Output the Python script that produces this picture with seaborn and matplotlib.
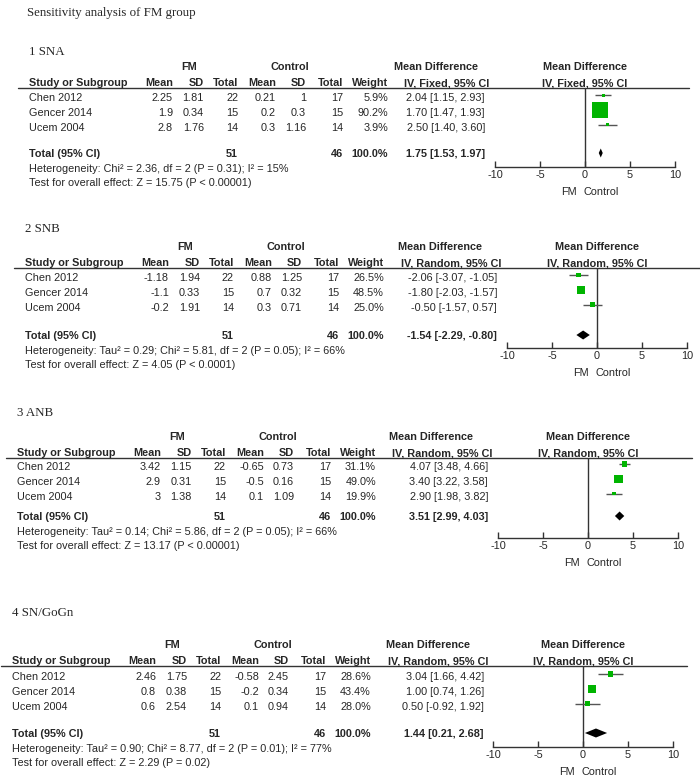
import numpy as np
import pandas as pd
import matplotlib.pyplot as plt
import seaborn as sns

sns.set_theme(style="white")
plt.rcParams['font.family'] = ['Liberation Sans', 'DejaVu Sans']

# %%
###### data
studies = ["Chen 2012", "Gencer 2014", "Ucem 2004"]
fm_n = [22, 15, 14]
ctrl_n = [17, 15, 14]

# 1 SNA
sna_fm_mean = [2.25, 1.9, 2.8]
sna_fm_sd = [1.81, 0.34, 1.76]
sna_ctrl_mean = [0.21, 0.2, 0.3]
sna_ctrl_sd = [1, 0.3, 1.16]
sna_weight = [5.9, 90.2, 3.9]
sna_md = [2.04, 1.70, 2.50]
sna_lo = [1.15, 1.47, 1.40]
sna_hi = [2.93, 1.93, 3.60]
sna_total = [1.75, 1.53, 1.97]
sna_het = "Heterogeneity: Chi² = 2.36, df = 2 (P = 0.31); I² = 15%"
sna_test = "Test for overall effect: Z = 15.75 (P < 0.00001)"

# 2 SNB
snb_fm_mean = [-1.18, -1.1, -0.2]
snb_fm_sd = [1.94, 0.33, 1.91]
snb_ctrl_mean = [0.88, 0.7, 0.3]
snb_ctrl_sd = [1.25, 0.32, 0.71]
snb_weight = [26.5, 48.5, 25.0]
snb_md = [-2.06, -1.80, -0.50]
snb_lo = [-3.07, -2.03, -1.57]
snb_hi = [-1.05, -1.57, 0.57]
snb_total = [-1.54, -2.29, -0.80]
snb_het = "Heterogeneity: Tau² = 0.29; Chi² = 5.81, df = 2 (P = 0.05); I² = 66%"
snb_test = "Test for overall effect: Z = 4.05 (P < 0.0001)"

# 3 ANB
anb_fm_mean = [3.42, 2.9, 3]
anb_fm_sd = [1.15, 0.31, 1.38]
anb_ctrl_mean = [-0.65, -0.5, 0.1]
anb_ctrl_sd = [0.73, 0.16, 1.09]
anb_weight = [31.1, 49.0, 19.9]
anb_md = [4.07, 3.40, 2.90]
anb_lo = [3.48, 3.22, 1.98]
anb_hi = [4.66, 3.58, 3.82]
anb_total = [3.51, 2.99, 4.03]
anb_het = "Heterogeneity: Tau² = 0.14; Chi² = 5.86, df = 2 (P = 0.05); I² = 66%"
anb_test = "Test for overall effect: Z = 13.17 (P < 0.00001)"

# 4 SN/GoGn
sng_fm_mean = [2.46, 0.8, 0.6]
sng_fm_sd = [1.75, 0.38, 2.54]
sng_ctrl_mean = [-0.58, -0.2, 0.1]
sng_ctrl_sd = [2.45, 0.34, 0.94]
sng_weight = [28.6, 43.4, 28.0]
sng_md = [3.04, 1.00, 0.50]
sng_lo = [1.66, 0.74, -0.92]
sng_hi = [4.42, 1.26, 1.92]
sng_total = [1.44, 0.21, 2.68]
sng_het = "Heterogeneity: Tau² = 0.90; Chi² = 8.77, df = 2 (P = 0.01); I² = 77%"
sng_test = "Test for overall effect: Z = 2.29 (P = 0.02)"

panel_labels = ["1 SNA", "2 SNB", "3 ANB", "4 SN/GoGn"]
methods = ["IV, Fixed, 95% CI", "IV, Random, 95% CI", "IV, Random, 95% CI", "IV, Random, 95% CI"]
ticks = [-10, -5, 0, 5, 10]

panels = [
    (sna_fm_mean, sna_fm_sd, sna_ctrl_mean, sna_ctrl_sd, sna_weight, sna_md, sna_lo, sna_hi, sna_total, sna_het, sna_test),
    (snb_fm_mean, snb_fm_sd, snb_ctrl_mean, snb_ctrl_sd, snb_weight, snb_md, snb_lo, snb_hi, snb_total, snb_het, snb_test),
    (anb_fm_mean, anb_fm_sd, anb_ctrl_mean, anb_ctrl_sd, anb_weight, anb_md, anb_lo, anb_hi, anb_total, anb_het, anb_test),
    (sng_fm_mean, sng_fm_sd, sng_ctrl_mean, sng_ctrl_sd, sng_weight, sng_md, sng_lo, sng_hi, sng_total, sng_het, sng_test),
]

# %%
###### layout (pixels, top-left origin)
W, H = 700, 780
left_px = [29, 25, 17, 12]
label_y = [52, 229, 413, 613]
hdr_y = [83, 263, 453, 661]
row0_y = [98, 278, 467, 677]
total_y = [154, 336, 517, 734]
axis_y = [167, 348, 538, 747]
zero_px = [585, 597, 588, 583]
md_right = [456, 472, 471, 472]
md_head = [407, 415, 414, 416]
px_per_unit = 9.0
row_step = 14.8
FS = 7.8
green = "#00b400"

fig = plt.figure(figsize=(7, 7.8), dpi=100)


def put(x, y, s, ha="left", bold=False, size=FS, **kw):
    fig.text(x / W, 1 - y / H, s, ha=ha, va="center", fontsize=size,
             fontweight="bold" if bold else "normal", **kw)


serif = ["Liberation Serif", "DejaVu Serif"]
put(27, 13, "Sensitivity analysis of FM group", size=9.3, family=serif)

for i, p in enumerate(panels):
    fm_mean, fm_sd, c_mean, c_sd, weight, md, lo, hi, tot, het, test = p
    L = left_px[i]
    z = zero_px[i]
    put(L, label_y[i], panel_labels[i], size=9.3, family=serif)

    # group headers
    put(L + 160, hdr_y[i] - 15.5, "FM", ha="center", bold=True)
    put(L + 261, hdr_y[i] - 15.5, "Control", ha="center", bold=True)
    put(L + md_head[i], hdr_y[i] - 15.5, "Mean Difference", ha="center", bold=True)
    put(z, hdr_y[i] - 15.5, "Mean Difference", ha="center", bold=True)

    # column headers
    cols = [("Study or Subgroup", 0, "left"), ("Mean", 144, "right"), ("SD", 175, "right"),
            ("Total", 209, "right"), ("Mean", 247, "right"), ("SD", 277, "right"),
            ("Total", 314, "right"), ("Weight", 359, "right")]
    for s, dx, ha in cols:
        put(L + dx, hdr_y[i], s, ha=ha, bold=True)
    put(L + md_right[i] + 4, hdr_y[i], methods[i], ha="right", bold=True)
    put(z, hdr_y[i], methods[i], ha="center", bold=True)
    line_y = hdr_y[i] + 4.5
    fig.add_artist(plt.Line2D([(L - 11) / W, (z + 104) / W], [1 - line_y / H] * 2,
                              color="#333333", lw=1.0, transform=fig.transFigure))

    # study rows
    for k, name in enumerate(studies):
        y = row0_y[i] + k * row_step
        put(L, y, name)
        put(L + 144, y, f"{fm_mean[k]:g}", ha="right")
        put(L + 175, y, f"{fm_sd[k]:g}", ha="right")
        put(L + 209, y, f"{fm_n[k]}", ha="right")
        put(L + 247, y, f"{c_mean[k]:g}", ha="right")
        put(L + 277, y, f"{c_sd[k]:g}", ha="right")
        put(L + 314, y, f"{ctrl_n[k]}", ha="right")
        put(L + 359, y, f"{weight[k]:.1f}%", ha="right")
        put(L + md_right[i], y, f"{md[k]:.2f} [{lo[k]:.2f}, {hi[k]:.2f}]", ha="right")

    # total row
    ty = total_y[i]
    put(L, ty, "Total (95% CI)", bold=True)
    put(L + 209, ty, f"{sum(fm_n)}", ha="right", bold=True)
    put(L + 314, ty, f"{sum(ctrl_n)}", ha="right", bold=True)
    put(L + 359, ty, f"{sum(weight):.1f}%", ha="right", bold=True)
    put(L + md_right[i], ty, f"{tot[0]:.2f} [{tot[1]:.2f}, {tot[2]:.2f}]", ha="right", bold=True)
    put(L, ty + 15, het)
    put(L, ty + 29, test)

    # forest plot axes
    y_top, y_bot = line_y, axis_y[i] + 32
    ax = fig.add_axes([(z - 110) / W, 1 - y_bot / H, 220 / W, (y_bot - y_top) / H])
    ax.set_xlim(-110 / px_per_unit, 110 / px_per_unit)
    ax.set_ylim(y_bot, y_top)
    ax.patch.set_alpha(0)
    for s in ["top", "left", "right"]:
        ax.spines[s].set_visible(False)
    ax.spines["bottom"].set_position(("data", axis_y[i]))
    ax.spines["bottom"].set_bounds(ticks[0], ticks[-1])
    ax.spines["bottom"].set_color("#333333")
    ax.spines["bottom"].set_linewidth(1.0)
    ax.set_xticks(ticks)
    ax.set_xticklabels([str(t) for t in ticks])
    ax.tick_params(axis="x", direction="in", length=4.5, width=1.0, color="#333333",
                   labelsize=FS, pad=2, bottom=True)
    ax.set_yticks([])
    ax.vlines(0, y_top, axis_y[i], color="#333333", lw=1.0)

    df = pd.DataFrame({"md": md, "lo": lo, "hi": hi, "weight": weight,
                       "y": [row0_y[i] + k * row_step - 3 for k in range(len(md))]})
    ax.hlines(df["y"], df["lo"], df["hi"], color="#555555", lw=1.0, zorder=2)
    sizes = {w: (max(w * 0.175, 3.0) * 72 / 100) ** 2 for w in weight}
    sns.scatterplot(data=df, x="md", y="y", size="weight", sizes=sizes, marker="s",
                    color=green, linewidth=0, legend=False, ax=ax, zorder=3)
    ax.set_xlabel("")
    ax.set_ylabel("")

    dy = ty - 1
    ax.fill([tot[1], tot[0], tot[2], tot[0]], [dy, dy - 4.5, dy, dy + 4.5], color="black", lw=0, zorder=3)

    fy = axis_y[i] + 25
    ax.text(-0.9, fy, "FM", ha="right", va="center", fontsize=FS)
    ax.text(-0.2, fy, "Control", ha="left", va="center", fontsize=FS)

fig.savefig("out.png", dpi=100)
